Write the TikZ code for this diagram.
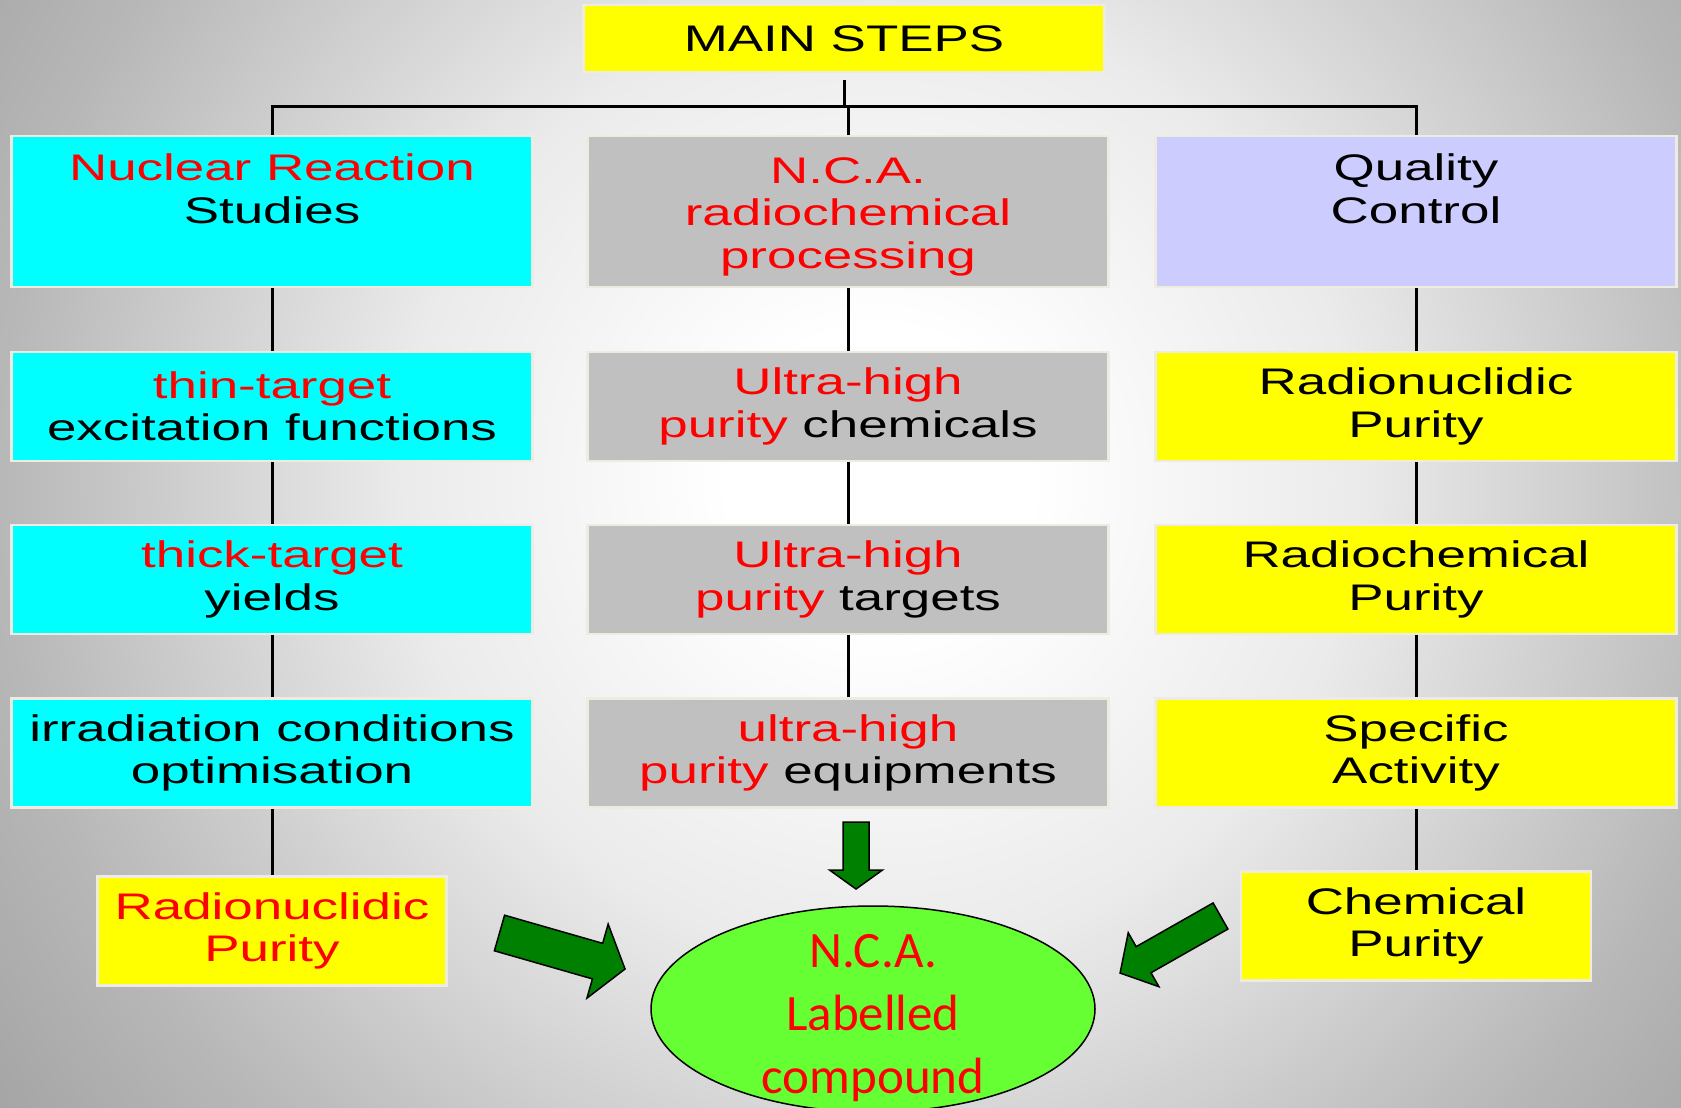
\documentclass[tikz,border=0pt]{standalone}
\usepackage{fontspec}
\usepackage{xcolor}
\usepackage{tikz}
\usetikzlibrary{trees,shapes.geometric}

\newfontfamily\boxfont[FakeStretch=1.43]{Liberation Sans}
\newfontfamily\ncafont{Carlito}

\definecolor{stepyellow}{RGB}{255,255,0}
\definecolor{stepcyan}{RGB}{0,255,255}
\definecolor{stepgray}{RGB}{192,192,192}
\definecolor{steplilac}{RGB}{204,204,255}
\definecolor{stepedge}{RGB}{238,236,224}
\definecolor{ncagreen}{RGB}{102,255,51}
\definecolor{arrowgreen}{RGB}{0,128,0}

\newcommand{\redtxt}[1]{\textcolor{red}{#1}}
\newcommand{\toppad}{\rule{0pt}{36pt}}

% light centre, grey rim
\pgfdeclareradialshading{stepsbg}{\pgfpoint{0bp}{0bp}}{color(0bp)=(white); color(3.3bp)=(white); color(10.4bp)=(black!8); color(19.1bp)=(black!28); color(23.9bp)=(black!36); color(50bp)=(black!36)}

% fat green arrow: tail, angle, length, shaft width, head width, head length
\newcommand{\blockarrow}[6]{%
  \draw[blockarrow, shift={#1}, rotate=#2]
    (0,#4/2) -- (#3-#6,#4/2) -- (#3-#6,#5/2) -- (#3,0) -- (#3-#6,-#5/2) -- (#3-#6,-#4/2) -- (0,-#4/2) -- cycle;}

\begin{document}
\begin{tikzpicture}[x=1pt, y=-1pt,
  stepbox/.style={draw=stepedge, line width=2.5pt, minimum width=521pt, minimum height=109pt,
    inner sep=0pt, align=center, font=\boxfont\fontsize{37}{42.5}\selectfont},
  toprow/.style={minimum height=151pt},
  blockarrow/.style={draw=black, line width=1.5pt, fill=arrowgreen, line join=miter},
  edge from parent/.style={draw, line width=3pt},
  level 1/.style={level distance=173pt, sibling distance=572pt,
    edge from parent path={(\tikzparentnode.south) -- ++(0,26) -| (\tikzchildnode.north)}},
  level 2/.style={level distance=195pt},
  level 3/.style={level distance=173pt},
  level 4/.style={level distance=173.5pt},
  level 5/.style={level distance=173pt}]

\useasboundingbox (0,0) rectangle (1681,1108);
\begin{scope}
  \clip (0,0) rectangle (1681,1108);
  \shade[shading=stepsbg] (880,480) circle (1150pt);
\end{scope}

\node[stepbox, fill=stepyellow, minimum height=67pt, outer ysep=8pt] (main) at (844,38.5) {MAIN STEPS}
  child {node[stepbox, toprow, fill=stepcyan] (nrs) {\toppad\redtxt{Nuclear Reaction}\\Studies\\\strut}
    child {node[stepbox, fill=stepcyan] (thin) {\redtxt{thin-target}\\excitation functions}
      child {node[stepbox, fill=stepcyan] (thick) {\redtxt{thick-target}\\yields}
        child {node[stepbox, fill=stepcyan] (irrad) {irradiation conditions\\optimisation}
          child[level distance=178pt] {node[stepbox, fill=stepyellow, minimum width=349pt, text=red] (rnpure) {Radionuclidic\\Purity}}}}}}
  child[xshift=4pt] {node[stepbox, toprow, fill=stepgray, text=red] (ncaproc) {\toppad N.C.A.\\radiochemical\\processing}
    child {node[stepbox, fill=stepgray] (uhchem) {\redtxt{Ultra-high}\\\redtxt{purity} chemicals}
      child {node[stepbox, fill=stepgray] (uhtarg) {\redtxt{Ultra-high}\\\redtxt{purity} targets}
        child {node[stepbox, fill=stepgray] (uhequip) {\redtxt{ultra-high}\\\redtxt{purity} equipments}}}}}
  child {node[stepbox, toprow, fill=steplilac] (qc) {\toppad Quality\\Control\\\strut}
    child {node[stepbox, fill=stepyellow] (rnpur) {Radionuclidic\\Purity}
      child {node[stepbox, fill=stepyellow] (rcpur) {Radiochemical\\Purity}
        child {node[stepbox, fill=stepyellow] (specact) {Specific\\Activity}
          child {node[stepbox, fill=stepyellow, minimum width=350pt] (chempur) {Chemical\\Purity}}}}}};

% labelled compound
\node[ellipse, draw, line width=1.5pt, fill=ncagreen, minimum width=444pt, minimum height=206pt, inner sep=0pt] (nca) at (873,1009) {};
\node[align=center, text=red, font=\ncafont\fontsize{51}{63}\selectfont] (ncatext) at ([yshift=-9.5pt]nca.center) {N.C.A.\\Labelled\\compound};

\blockarrow{(499.5,933)}{-16}{130.6}{37}{77}{28.6}
\blockarrow{(1220.5,916)}{-150.4}{115.5}{30}{62}{27}
\blockarrow{(856,822)}{-90}{67}{26}{53}{19}
\end{tikzpicture}
\end{document}
